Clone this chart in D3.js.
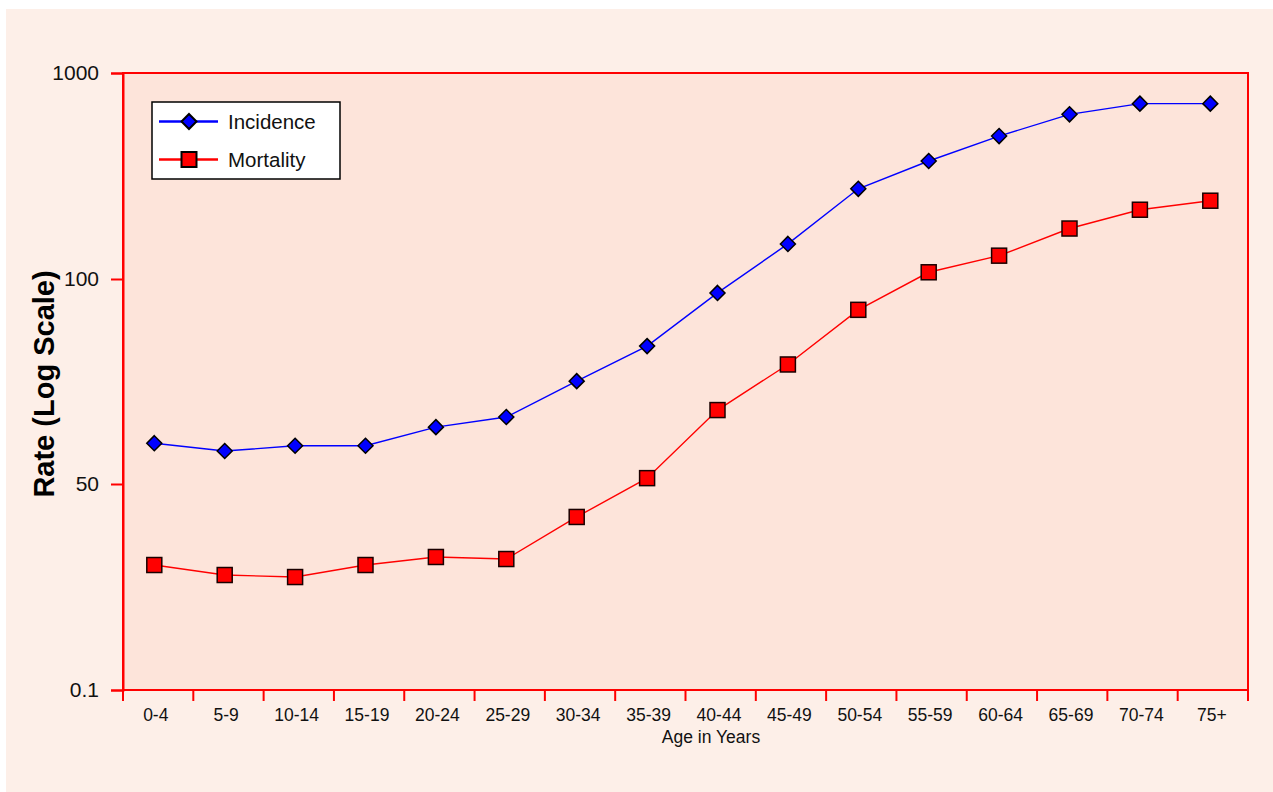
<!DOCTYPE html>
<html>
<head>
<meta charset="utf-8">
<script src="https://cdn.jsdelivr.net/npm/d3@7"></script>
<style>
  html, body { margin: 0; padding: 0; background: #ffffff; }
  svg { display: block; font-family: "Liberation Sans", Arial, Helvetica, sans-serif; }
</style>
</head>
<body>
<svg id="chart" width="1273" height="792"></svg>
<script>
// ---- data ----
const categories = ["0-4","5-9","10-14","15-19","20-24","25-29","30-34","35-39","40-44","45-49","50-54","55-59","60-64","65-69","70-74","75+"];
const incidence = [57.4, 55.9, 56.9, 56.9, 60.6, 62.7, 70.8, 79.7, 95.4, 148, 274, 374, 494, 630, 710, 710];
const mortality = [4.34, 3.21, 3.02, 4.34, 5.53, 5.2, 18.5, 51.0, 64.2, 74.9, 90.1, 107.8, 129.8, 175.8, 216.9, 239.9];
const yTickValues = [0.1, 50, 100, 1000];
const yTickLabels = ["0.1", "50", "100", "1000"];
const seriesNames = ["Incidence", "Mortality"];

// ---- layout ----
const svg = d3.select("#chart");
const plot = { left: 123, top: 73, right: 1248, bottom: 690 };

// outer panel
svg.append("rect").attr("x", 6).attr("y", 9).attr("width", 1267).attr("height", 783).attr("fill", "#fdefe8");

// plot area
svg.append("rect")
  .attr("x", plot.left).attr("y", plot.top)
  .attr("width", plot.right - plot.left).attr("height", plot.bottom - plot.top)
  .attr("fill", "#fde4da").attr("stroke", "#ff0000").attr("stroke-width", 2);

// scales
const xBand = d3.scaleBand().domain(categories).range([plot.left, plot.right]).padding(0);
const x = d3.scalePoint().domain(categories).range([154.3, 1210.3]);
// axis as drawn: equally spaced labels on a log-type scale
const y = d3.scaleLog().domain(yTickValues).range([690, 484, 279, 73]);

// y axis
const yAxis = svg.append("g")
  .attr("transform", `translate(${plot.left},0)`)
  .call(d3.axisLeft(y).tickValues(yTickValues).tickSize(12).tickPadding(12)
        .tickFormat((d, i) => yTickLabels[i]));
yAxis.select(".domain").attr("stroke", "#ff0000").attr("stroke-width", 2);
yAxis.selectAll(".tick line").attr("stroke", "#ff0000").attr("stroke-width", 2);
yAxis.selectAll(".tick text").attr("fill", "#111").attr("font-size", 21)
  .attr("font-family", "'Liberation Sans', Arial, Helvetica, sans-serif");

// x axis ticks at band boundaries
const boundaries = categories.map(c => xBand(c)).concat([plot.right]);
svg.append("g").selectAll("line").data(boundaries).join("line")
  .attr("x1", d => d).attr("x2", d => d)
  .attr("y1", plot.bottom).attr("y2", plot.bottom + 11)
  .attr("stroke", "#ff0000").attr("stroke-width", 2);
svg.append("line").attr("x1", plot.left).attr("x2", plot.right)
  .attr("y1", plot.bottom).attr("y2", plot.bottom)
  .attr("stroke", "#ff0000").attr("stroke-width", 2);

svg.append("g").selectAll("text").data(categories).join("text")
  .attr("x", d => x(d) + 1.5).attr("y", 721)
  .attr("text-anchor", "middle").attr("font-size", 17.5).attr("fill", "#111")
  .text(d => d);

// axis titles
svg.append("text").attr("x", 711).attr("y", 743).attr("text-anchor", "middle")
  .attr("font-size", 17.5).attr("fill", "#111").text("Age in Years");
svg.append("text").attr("transform", "translate(54,384) rotate(-90)")
  .attr("text-anchor", "middle").attr("font-size", 29).attr("font-weight", "bold")
  .attr("fill", "#000").text("Rate (Log Scale)");

// lines
const line = d3.line().x((d, i) => x(categories[i])).y(d => y(d));
svg.append("path").datum(incidence).attr("d", line)
  .attr("fill", "none").attr("stroke", "#0000ff").attr("stroke-width", 1.4);
svg.append("path").datum(mortality).attr("d", line)
  .attr("fill", "none").attr("stroke", "#ff0000").attr("stroke-width", 1.4);

// markers
const diamond = s => `M0,${-s}L${s},0L0,${s}L${-s},0Z`;
svg.append("g").selectAll("path").data(incidence).join("path")
  .attr("transform", (d, i) => `translate(${x(categories[i])},${y(d)})`)
  .attr("d", diamond(7.5))
  .attr("fill", "#0000ff").attr("stroke", "#000").attr("stroke-width", 1.5);
svg.append("g").selectAll("rect").data(mortality).join("rect")
  .attr("x", (d, i) => x(categories[i]) - 7.5).attr("y", d => y(d) - 7.5)
  .attr("width", 15).attr("height", 15)
  .attr("fill", "#ff0000").attr("stroke", "#1a0000").attr("stroke-width", 1.5);

// legend
const lg = svg.append("g");
lg.append("rect").attr("x", 152).attr("y", 102).attr("width", 188).attr("height", 77)
  .attr("fill", "#ffffff").attr("stroke", "#000").attr("stroke-width", 1.5);
const rows = [121.5, 159.5];
const colors = ["#0000ff", "#ff0000"];
seriesNames.forEach((name, i) => {
  lg.append("line").attr("x1", 159).attr("x2", 218).attr("y1", rows[i]).attr("y2", rows[i])
    .attr("stroke", colors[i]).attr("stroke-width", 2.5);
  if (i === 0) {
    lg.append("path").attr("transform", `translate(189,${rows[i]})`).attr("d", diamond(7.5))
      .attr("fill", "#0000ff").attr("stroke", "#000").attr("stroke-width", 2);
  } else {
    lg.append("rect").attr("x", 189 - 7.5).attr("y", rows[i] - 7.5).attr("width", 15).attr("height", 15)
      .attr("fill", "#ff0000").attr("stroke", "#000").attr("stroke-width", 2);
  }
  lg.append("text").attr("x", 228).attr("y", rows[i]).attr("dy", "0.36em")
    .attr("font-size", 20.5).attr("fill", "#111").text(name);
});
</script>
</body>
</html>
